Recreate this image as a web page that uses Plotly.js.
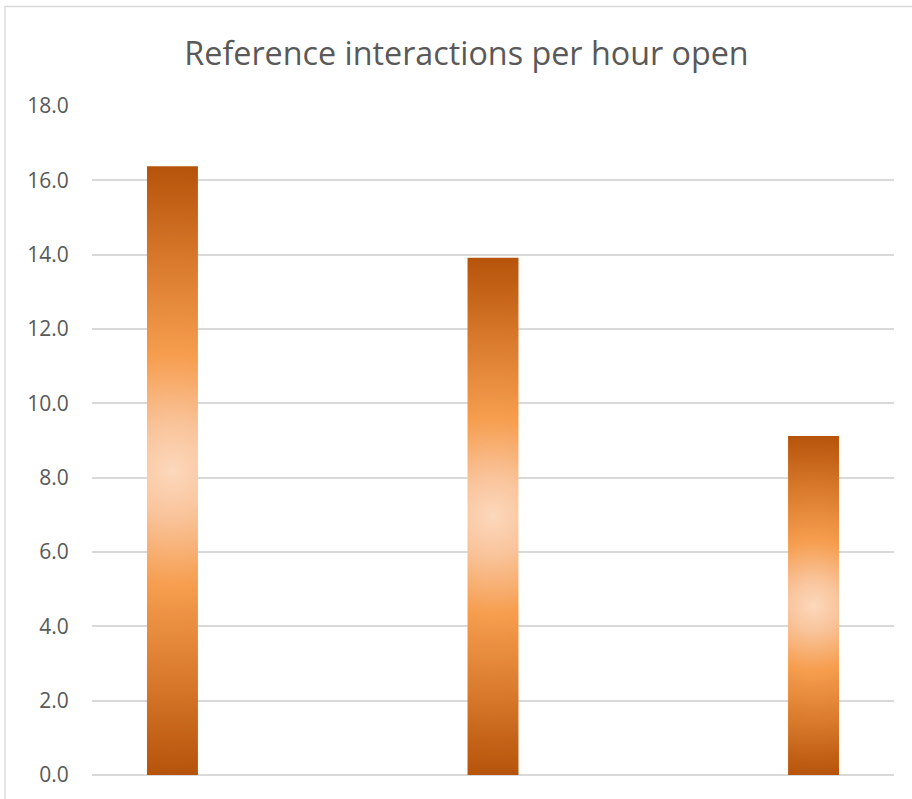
<!DOCTYPE html>
<html>
<head>
<meta charset="utf-8">
<script src="https://cdn.plot.ly/plotly-3.0.1.min.js"></script>
<style>
  html, body { margin: 0; padding: 0; background: #ffffff; }
  #chart { width: 912px; height: 799px; }
</style>
</head>
<body>
<div id="chart"></div>
<script>
// ---- data ----
const categories = ["Location A", "Location B", "Location C"];
const values = [16.38, 13.92, 9.12];
const yTickValues = [0, 2, 4, 6, 8, 10, 12, 14, 16, 18];
const yTickLabels = ["0.0", "2.0", "4.0", "6.0", "8.0", "10.0", "12.0", "14.0", "16.0", "18.0"];
const chartTitle = "Reference interactions per hour open";

// gradient stops (offset from bar centre, colour)
const gradOffsets = [0, 0.15, 0.38, 0.68, 1];
const gradColors = ["#fcd8bc", "#f9c49b", "#f69d4e", "#d97a2c", "#b5530a"];

const textColor = "#595959";
const gridColor = "#d9d9d9";

const trace = {
  type: "bar",
  x: categories,
  y: values,
  marker: { color: "#e8893a", line: { width: 0 } },
  hovertemplate: "%{x}: %{y:.1f}<extra></extra>"
};

const layout = {
  width: 912,
  height: 799,
  paper_bgcolor: "#ffffff",
  plot_bgcolor: "#ffffff",
  margin: { l: 92, r: 18, t: 106, b: 24 },
  showlegend: false,
  bargap: 0.841,
  title: {
    text: chartTitle,
    font: { family: "Open Sans, Noto Sans, sans-serif", size: 32.3, color: textColor },
    x: 466.5 / 912, xanchor: "center", xref: "container",
    y: 1 - 54 / 799, yanchor: "middle", yref: "container"
  },
  xaxis: {
    type: "category",
    range: [-0.251, 2.251],
    showticklabels: false,
    showgrid: false,
    zeroline: false,
    showline: false,
    ticks: "",
    fixedrange: true
  },
  yaxis: {
    range: [0, 18],
    tickvals: yTickValues,
    ticktext: yTickLabels,
    tickfont: { family: "Open Sans, Noto Sans, sans-serif", size: 21, color: textColor },
    showgrid: true,
    gridcolor: gridColor,
    gridwidth: 1.5,
    zeroline: true,
    zerolinecolor: gridColor,
    zerolinewidth: 1.8,
    showline: false,
    ticks: "outside",
    ticklen: 18,
    tickcolor: "rgba(0,0,0,0)",
    fixedrange: true
  },
  shapes: [{
    type: "rect", xref: "paper", yref: "paper", layer: "below",
    x0: (5 - 92) / 802, x1: (930 - 92) / 802,
    y0: (775 - 830) / 669, y1: (775 - 6.5) / 669,
    line: { color: gridColor, width: 1.3 },
    fillcolor: "rgba(0,0,0,0)"
  }]
};

const gd = document.getElementById("chart");
Plotly.newPlot(gd, [trace], layout, { displayModeBar: false, staticPlot: false }).then(function () {
  const svgNS = "http://www.w3.org/2000/svg";
  const mainSvg = gd.querySelector("svg.main-svg");
  let defs = mainSvg.querySelector("defs");
  if (!defs) { defs = document.createElementNS(svgNS, "defs"); mainSvg.insertBefore(defs, mainSvg.firstChild); }
  const paths = gd.querySelectorAll(".trace.bars .point path");
  paths.forEach(function (p, i) {
    const bb = p.getBBox();
    const g = document.createElementNS(svgNS, "radialGradient");
    const id = "barGrad" + i;
    g.setAttribute("id", id);
    g.setAttribute("gradientUnits", "userSpaceOnUse");
    const cx = bb.x + bb.width / 2, cy = bb.y + bb.height / 2;
    g.setAttribute("cx", cx); g.setAttribute("cy", cy);
    g.setAttribute("fx", cx); g.setAttribute("fy", cy);
    g.setAttribute("r", Math.sqrt(Math.pow(bb.height / 2, 2) + Math.pow(bb.width / 2, 2)));
    gradOffsets.forEach(function (o, k) {
      const s = document.createElementNS(svgNS, "stop");
      s.setAttribute("offset", o);
      s.setAttribute("stop-color", gradColors[k]);
      g.appendChild(s);
    });
    defs.appendChild(g);
    p.style.fill = "url(#" + id + ")";
  });
});
</script>
</body>
</html>
